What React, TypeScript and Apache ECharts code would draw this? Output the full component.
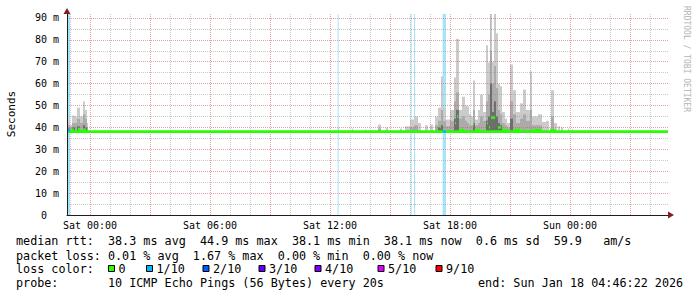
import React, { useEffect, useRef } from 'react';
import * as echarts from 'echarts';

// ---------- data ----------
const xTickHours = [0, 6, 12, 18, 24];
const xTickLabels = ['Sat 00:00', 'Sat 06:00', 'Sat 12:00', 'Sat 18:00', 'Sun 00:00'];
const majorGridHours = [0, 3, 6, 9, 12, 15, 18, 21, 24, 27];
const minorGridHours = [-1, 1, 2, 4, 5, 7, 8, 10, 11, 13, 14, 16, 17, 19, 20, 22, 23, 25, 26, 28];
const majorGridMs = [10, 20, 30, 40, 50, 60, 70, 80, 90];
const minorGridMs = [5, 15, 25, 35, 45, 55, 65, 75, 85];

// smoke: time span (hours from Sat 00:00) and outer / middle / inner top (ms)
const smokeStart = [-1.15, -1.0, -0.9, -0.75, -0.65, -0.5, -0.35, -0.25, -0.15,
  12.4, 13.1, 13.75, 14.4, 14.8, 15.5, 15.75, 16.0, 16.2, 16.4, 16.75, 17.0, 17.25, 17.4, 17.55, 17.65, 17.8,
  18.0, 18.2, 18.3, 18.45, 18.6, 18.75, 18.85, 18.95, 19.05, 19.15, 19.25, 19.4, 19.5, 19.65, 19.8, 19.9,
  20.0, 20.1, 20.2, 20.3, 20.4, 20.5, 20.6, 20.75, 20.85, 21.0, 21.15, 21.3, 21.5, 21.65, 21.8, 22.0, 22.1,
  22.4, 22.6, 22.8, 23.05, 23.2, 23.4, 23.55, 23.9, 24.1];
const smokeEnd = [-1.0, -0.9, -0.75, -0.65, -0.5, -0.35, -0.25, -0.15, -0.1,
  12.45, 13.15, 13.8, 14.55, 14.9, 15.6, 16.0, 16.2, 16.4, 16.55, 16.9, 17.15, 17.4, 17.55, 17.65, 17.8, 18.0,
  18.2, 18.3, 18.45, 18.6, 18.75, 18.85, 18.95, 19.05, 19.15, 19.25, 19.4, 19.5, 19.65, 19.8, 19.9, 20.0,
  20.1, 20.2, 20.3, 20.4, 20.5, 20.6, 20.75, 20.85, 21.0, 21.15, 21.3, 21.5, 21.65, 21.8, 22.0, 22.1, 22.4,
  22.6, 22.8, 22.95, 23.2, 23.35, 23.5, 23.65, 23.95, 24.15];
const smokeOuter = [43, 41, 45.4, 45, 49, 45, 51.8, 48, 42,
  40, 39.5, 39.2, 41.3, 40, 39.5, 40.5, 43.6, 45, 42, 41, 41.3, 45, 49, 63.4, 49, 43.6,
  48, 62.8, 80.4, 48, 54, 50, 49.7, 46, 45, 61.4, 43.6, 48, 55, 47, 77.5, 69.6,
  91.8, 70, 91.8, 83, 60, 58.8, 47, 44, 42, 68.7, 57, 47, 51, 57.3, 48, 65.7, 45,
  46, 42.5, 43, 57, 42, 40.5, 40, 39.5, 39.3];
const smokeMiddle = [41, 40, 42, 42, 44, 42, 46, 44, 40,
  0, 0, 0, 39.5, 0, 0, 0, 40, 41, 0, 0, 0, 41, 43, 48, 43, 40.5,
  43, 52, 56, 44, 45, 43, 42, 41, 41, 48, 41, 42, 45, 43, 52, 55,
  75, 60, 68, 58, 48, 46, 42, 41, 40, 52, 46, 42, 44, 46, 43, 48, 41,
  41, 0, 0, 45, 0, 0, 0, 0, 0];
const smokeInner = [39.5, 0, 40, 0, 40.5, 0, 41, 40, 0,
  0, 0, 0, 0, 0, 0, 0, 0, 0, 0, 0, 0, 0, 40, 41, 0, 0,
  0, 44, 48, 0, 0, 0, 0, 0, 0, 42, 0, 0, 0, 0, 43, 45,
  60, 47, 52, 45, 42, 41, 0, 0, 0, 44, 0, 0, 0, 0, 0, 0, 0,
  0, 0, 0, 0, 0, 0, 0, 0, 0];

// median rtt segments: start, end (hours), value (ms), loss (tenths)
const medianStart = [-1.15, -1.15, -0.9, -0.6, -0.35, 17.5, 17.65, 18.25, 18.35, 18.5, 19.15, 19.3, 19.85, 19.95, 20.05, 20.4, 20.6, 21.2, 21.65, 22.05, 22.2, 23.0];
const medianEnd = [28.9, -1.0, -0.8, -0.5, -0.2, 17.55, 17.8, 18.3, 18.42, 18.7, 19.2, 19.5, 19.9, 20.0, 20.25, 20.55, 20.9, 21.5, 21.7, 22.1, 22.6, 23.3];
const medianMs = [38.1, 38.6, 38.9, 39.2, 39.0, 40.2, 38.1, 42, 45, 38.8, 41.5, 38.8, 41.9, 40, 44.5, 40, 38.7, 38.8, 39.5, 39, 38.7, 38.6];
const medianLoss = [0, 1, 0, 0, 0, 0, 1, 0, 0, 0, 0, 0, 0, 0, 0, 0, 0, 0, 0, 0, 0, 0];

// packet loss bands
const lossStart = [-1.15, 12.38, 16.03, 16.2, 17.63];
const lossEnd = [-1.0, 12.43, 16.08, 16.25, 17.8];

const lossLegendLabels = ['0', '1/10', '2/10', '3/10', '4/10', '5/10', '9/10'];
const lossLegendColors = ['#26ff00', '#00b8ff', '#0059ff', '#5e00ff', '#7e00ff', '#dd00ff', '#ff0000'];
const lossColorByTenths: Record<number, string> = { 0: '#26ff00', 1: '#00b8ff', 2: '#0059ff', 3: '#5e00ff', 4: '#7e00ff', 5: '#dd00ff', 9: '#ff0000' };

const statRtt = 'median rtt:  38.3 ms avg  44.9 ms max  38.1 ms min  38.1 ms now  0.6 ms sd  59.9   am/s';
const statLoss = 'packet loss: 0.01 % avg  1.67 % max  0.00 % min  0.00 % now';
const lossTitle = 'loss color:';
const probeText = 'probe:       10 ICMP Echo Pings (56 Bytes) every 20s';
const endText = 'end: Sun Jan 18 04:46:22 2026';
const yTitle = 'Seconds';
const watermark = 'RRDTOOL / TOBI OETIKER';

// ---------- layout ----------
const X_MIN = -1.15;
const X_MAX = 28.9;
const Y_MAX = 91.8;
const SMOKE_BASE = 37.6;
const GRID = { left: 67, top: 14, width: 601, height: 201 };
const MONO = 'DejaVu Sans Mono';
const swatchX = [108, 146, 202.5, 258.5, 314.5, 377.5, 435.5];
const nb = (s: string) => s.replace(/ /g, '\u00a0');

export default function App() {
  const ref = useRef<HTMLDivElement>(null);
  useEffect(() => {
    const chart = echarts.init(ref.current!, null, { renderer: 'svg' });

    const idx = smokeStart.map((_, i) => i);
    const layer = (vals: number[]) =>
      idx.filter((i) => vals[i] > 0).map((i) => [smokeStart[i], smokeEnd[i], vals[i]]);

    const rectItem = (color: string) => (params: any, api: any) => {
      const p0 = api.coord([api.value(0), api.value(2)]);
      const p1 = api.coord([api.value(1), SMOKE_BASE]);
      return {
        type: 'rect',
        shape: { x: p0[0], y: p0[1], width: Math.max(1, p1[0] - p0[0]), height: p1[1] - p0[1] },
        style: { fill: color },
      };
    };

    const minorStyle = { color: 'rgba(143,143,143,0.5)', type: [1, 1], width: 1 };
    const majorStyle = { color: 'rgba(222,79,79,0.55)', type: [1, 1], width: 1 };
    const gridLines: any[] = [
      ...minorGridHours.map((h) => ({ xAxis: h, lineStyle: minorStyle })),
      ...minorGridMs.map((v) => ({ yAxis: v, lineStyle: minorStyle })),
      ...majorGridHours.map((h) => ({ xAxis: h, lineStyle: majorStyle })),
      ...majorGridMs.map((v) => ({ yAxis: v, lineStyle: majorStyle })),
    ];

    const text = (t: string, x: number, y: number, extra: any = {}) => ({
      type: 'text',
      x,
      y,
      style: { text: nb(t), fill: '#000', font: `11.75px "${MONO}"`, verticalAlign: 'middle', ...extra },
    });

    const graphics: any[] = [
      {
        type: 'text', x: 11, y: 114, rotation: Math.PI / 2,
        style: { text: yTitle, fill: '#000', font: `11px "${MONO}"`, align: 'center', verticalAlign: 'middle' },
      },
      {
        type: 'text', x: 686, y: 59, rotation: -Math.PI / 2,
        style: { text: watermark, fill: '#b4b4b4', font: `8px "${MONO}"`, align: 'center', verticalAlign: 'middle' },
      },
      { type: 'polygon', z: 20, shape: { points: [[63.5, 14], [70.5, 14], [67, 8]] }, style: { fill: '#801f1f' } },
      { type: 'polygon', z: 20, shape: { points: [[668, 211.5], [668, 218.5], [674, 215]] }, style: { fill: '#801f1f' } },
      text(statRtt, 16, 241),
      text(statLoss, 16, 255.5),
      text(lossTitle, 16, 269),
      text(probeText, 16, 283),
      text(endText, 478, 283),
    ];
    lossLegendLabels.forEach((lab, i) => {
      graphics.push({
        type: 'rect', shape: { x: swatchX[i] + 0.5, y: 265.5, width: 6, height: 6 },
        style: { fill: lossLegendColors[i], stroke: '#000', lineWidth: 1 },
      });
      graphics.push(text(lab, swatchX[i] + 10.5, 269));
    });

    chart.setOption({
      animation: false,
      backgroundColor: '#fff',
      textStyle: { fontFamily: MONO },
      grid: GRID,
      xAxis: {
        type: 'value', min: X_MIN, max: X_MAX, z: 10,
        axisLine: { show: true, onZero: false, lineStyle: { color: '#1f1f1f', width: 1 } },
        axisTick: { show: false, customValues: xTickHours },
        splitLine: { show: false },
        axisLabel: {
          customValues: xTickHours, fontSize: 10, color: '#000', margin: 5, fontFamily: MONO,
          formatter: (v: number) => { const k = xTickHours.indexOf(v); return k >= 0 ? xTickLabels[k] : ''; },
        },
      },
      yAxis: {
        type: 'value', min: 0, max: Y_MAX, interval: 10, z: 10,
        axisLine: { show: true, onZero: false, lineStyle: { color: '#1f1f1f', width: 1 } },
        axisTick: { show: false },
        splitLine: { show: false },
        axisLabel: {
          fontSize: 10, color: '#000', margin: 8, fontFamily: MONO, showMaxLabel: false,
          formatter: (v: number) => (v === 0 ? '0\u00a0\u00a0' : v % 10 === 0 ? `${v}\u00a0m` : ''),
        },
      },
      graphic: graphics,
      series: [
        {
          type: 'line', data: [], z: 1, silent: true,
          markLine: { silent: true, symbol: ['none', 'none'], label: { show: false }, animation: false, data: gridLines },
        },
        {
          type: 'custom', z: 2, silent: true, clip: true,
          data: lossStart.map((s, i) => [s, lossEnd[i]]),
          encode: { x: [0, 1] },
          renderItem: (params: any, api: any) => {
            const p0 = api.coord([api.value(0), Y_MAX]);
            const p1 = api.coord([api.value(1), 0]);
            return { type: 'rect', shape: { x: p0[0], y: p0[1], width: Math.max(1, p1[0] - p0[0]), height: p1[1] - p0[1] }, style: { fill: '#a9e3f7' } };
          },
        },
        { type: 'custom', z: 3, silent: true, clip: true, data: layer(smokeOuter), encode: { x: [0, 1], y: 2 }, renderItem: rectItem('#cbcbcb') },
        { type: 'custom', z: 4, silent: true, clip: true, data: layer(smokeMiddle), encode: { x: [0, 1], y: 2 }, renderItem: rectItem('#ababab') },
        { type: 'custom', z: 5, silent: true, clip: true, data: layer(smokeInner), encode: { x: [0, 1], y: 2 }, renderItem: rectItem('#6e6e6e') },
        {
          type: 'custom', z: 6, silent: true, clip: true,
          data: medianStart.map((s, i) => [s, medianEnd[i], medianMs[i], medianLoss[i]]),
          encode: { x: [0, 1], y: 2 },
          renderItem: (params: any, api: any) => {
            const p0 = api.coord([api.value(0), api.value(2)]);
            const p1 = api.coord([api.value(1), api.value(2)]);
            return {
              type: 'rect',
              shape: { x: p0[0], y: p0[1] - 1.3, width: Math.max(1, p1[0] - p0[0]), height: 2.6 },
              style: { fill: lossColorByTenths[api.value(3)] || '#26ff00' },
            };
          },
        },
      ],
    });
    return () => chart.dispose();
  }, []);
  return <div ref={ref} style={{ position: 'fixed', left: 0, top: 0, width: 697, height: 297 }} />;
}
